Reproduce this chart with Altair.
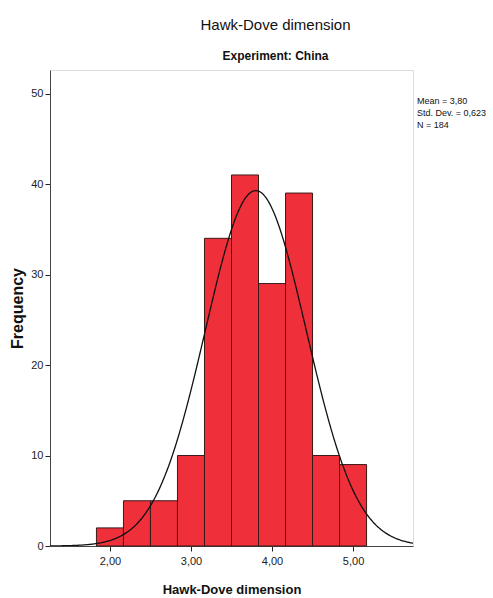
import altair as alt
import pandas as pd

# Histogram bins
bin_start = [1.8333, 2.1667, 2.5, 2.8333, 3.1667, 3.5, 3.8333, 4.1667, 4.5, 4.8333]
bin_end = [2.1667, 2.5, 2.8333, 3.1667, 3.5, 3.8333, 4.1667, 4.5, 4.8333, 5.1667]
counts = [2, 5, 5, 10, 34, 41, 29, 39, 10, 9]

# Fitted normal curve parameters (as printed on the chart)
mean_val = 3.80
sd_val = 0.623
n_val = 184
bin_width = 1 / 3

x_ticks = [2, 3, 4, 5]
y_ticks = [0, 10, 20, 30, 40, 50]
x_domain = [1.26, 5.74]
y_domain = [0, 52.6]
stats_lines = ["Mean = 3,80", "Std. Dev. = 0,623", "N = 184"]

bars_df = pd.DataFrame({"start": bin_start, "end": bin_end, "count": counts})

FONT = "Liberation Sans, Arial"

x_scale = alt.Scale(domain=x_domain, nice=False, zero=False)
y_scale = alt.Scale(domain=y_domain, nice=False)

bars = alt.Chart(bars_df).mark_bar(
    color="#EF2F3A", stroke="#3a1a1a", strokeWidth=1, opacity=1
).encode(
    x=alt.X("start:Q", scale=x_scale,
            axis=alt.Axis(values=x_ticks, title="Hawk-Dove dimension",
                          labelExpr="replace(format(datum.value, '.2f'), '.', ',')",
                          grid=False, tickSize=5, tickColor="#222", domainColor="#444",
                          labelFont=FONT, labelFontSize=11, labelColor="#222", labelPadding=4,
                          titleFont=FONT, titleFontSize=13, titleFontWeight="bold",
                          titleColor="#111", titlePadding=17)),
    x2="end:Q",
    y=alt.Y("count:Q", scale=y_scale,
            axis=alt.Axis(values=y_ticks, title="Frequency", grid=False, tickSize=5,
                          tickColor="#222", domainColor="#444",
                          labelFont=FONT, labelFontSize=11, labelColor="#222", labelPadding=2,
                          titleFont=FONT, titleFontSize=16, titleFontWeight="bold",
                          titleColor="#111", titlePadding=5)),
    y2=alt.datum(0),
)

curve = alt.Chart(alt.sequence(x_domain[0], x_domain[1] + 0.001, 0.01, as_="x")).transform_calculate(
    y=f"{n_val} * {bin_width} / ({sd_val} * sqrt(2 * PI)) * exp(-0.5 * pow((datum.x - {mean_val}) / {sd_val}, 2))"
).mark_line(color="#111", strokeWidth=1.3, clip=True).encode(
    x=alt.X("x:Q", scale=x_scale),
    y=alt.Y("y:Q", scale=y_scale),
)

stats_layers = [
    alt.Chart(pd.DataFrame({"line": [s]})).mark_text(
        align="left", baseline="middle", font=FONT, fontSize=9, color="#111"
    ).encode(x=alt.value(367), y=alt.value(31 + 12 * i), text="line:N")
    for i, s in enumerate(stats_lines)
]

chart = alt.layer(bars, curve, *stats_layers).properties(
    width=363,
    height=476,
    padding={"left": 50, "top": 70, "right": 80, "bottom": 52},
    autosize=alt.AutoSizeParams(type="none"),
    title=alt.TitleParams(
        text="Hawk-Dove dimension",
        subtitle="Experiment: China",
        font=FONT, fontSize=15, fontWeight="normal", color="#111",
        subtitleFont=FONT, subtitleFontSize=12, subtitleFontWeight="bold",
        subtitleColor="#111", subtitlePadding=18,
        anchor="middle", dx=44, offset=8,
    ),
).configure_view(
    fill="#F0F0F0", stroke="#555", strokeWidth=1.2
).configure(background="white")

chart.save("out.html", embed_options={"renderer": "svg", "actions": False})
